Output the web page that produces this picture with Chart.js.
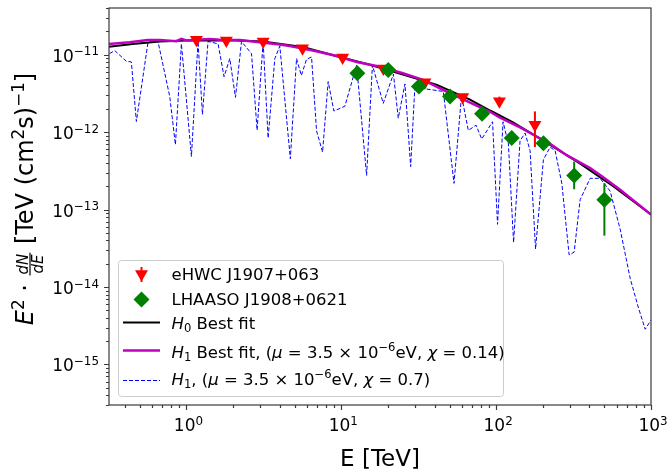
<!DOCTYPE html>
<html>
<head>
<meta charset="utf-8">
<script src="https://cdn.jsdelivr.net/npm/chart.js@4.4.1/dist/chart.umd.min.js"></script>
<style>
  body { margin: 0; background: #fff; }
  canvas { display: block; }
</style>
</head>
<body>
<canvas id="c" width="667" height="470"></canvas>
<script>
// eHWC J1907+063 points (E in TeV, E^2 dN/dE in TeV cm^-2 s^-1)
const ehwcE  = [1.16, 1.81, 3.13, 5.62, 10.2, 18.7, 34.7, 60.8, 105, 178];
const ehwcF  = [1.56e-11, 1.52e-11, 1.48e-11, 1.21e-11, 9.16e-12, 6.64e-12, 4.41e-12, 2.84e-12, 2.50e-12, 1.24e-12];
const ehwcLo = [null, null, null, null, null, null, null, null, 2.2e-12, 6.4e-13];
const ehwcHi = [null, null, null, null, null, null, null, null, 2.87e-12, 1.85e-12];

// LHAASO J1908+0621 points
const lhaasoE  = [12.7, 20.1, 31.7, 50.4, 81.1, 126, 202, 319, 500];
const lhaasoF  = [5.74e-12, 6.32e-12, 3.88e-12, 2.89e-12, 1.72e-12, 8.39e-13, 7.18e-13, 2.76e-13, 1.34e-13];
const lhaasoLo = [null, null, null, null, null, null, null, 1.83e-13, 4.6e-14];
const lhaasoHi = [null, null, null, null, null, null, null, 4.16e-13, 2.19e-13];

// H0 best fit
const h0E = [0.316, 0.450, 0.672, 1.0, 1.905, 3.11, 5.65, 9.37, 15.3, 25.0, 41.5, 67.8, 91.3, 128.6, 213, 349, 570, 1000];
const h0F = [1.26e-11, 1.37e-11, 1.48e-11, 1.52e-11, 1.53e-11, 1.48e-11, 1.26e-11, 9.52e-12, 7.42e-12, 5.54e-12,
             4.07e-12, 2.63e-12, 1.90e-12, 1.34e-12, 7.25e-13, 3.92e-13, 2.00e-13, 8.64e-14];

// H1 best fit (chi = 0.14)
const h1E = [0.316, 0.430, 0.562, 0.672, 0.862, 0.928, 1.0, 1.414, 1.641, 2.211, 2.683, 4.01, 4.65, 6.55, 9.37,
             12.6, 17.8, 25.0, 33.7, 45.4, 58.4, 91.3, 106, 142.7, 178.4, 223, 287, 404.6, 484, 632, 1000];
const h1F = [1.37e-11, 1.45e-11, 1.55e-11, 1.55e-11, 1.49e-11, 1.60e-11, 1.52e-11, 1.59e-11, 1.56e-11, 1.55e-11,
             1.48e-11, 1.35e-11, 1.29e-11, 1.13e-11, 9.60e-12, 8.05e-12, 6.96e-12, 5.74e-12, 4.72e-12, 3.52e-12,
             2.76e-12, 1.83e-12, 1.54e-12, 1.15e-12, 8.97e-13, 7.04e-13, 5.00e-13, 3.44e-13, 2.68e-13, 1.80e-13, 8.64e-14];

// H1 with chi = 0.7
const h1bE = [0.319, 0.344, 0.409, 0.441, 0.475, 0.565, 0.655, 0.780, 0.849, 0.928,
              1.077, 1.188, 1.269, 1.379, 1.601, 1.750, 1.905, 2.074, 2.268, 2.632,
              2.860, 3.128, 3.369, 3.723, 4.010, 4.688, 5.142, 5.523, 5.968, 6.427,
              6.922, 7.570, 8.228, 8.959, 10.55, 12.56, 14.57, 15.89, 18.66, 21.72,
              23.33, 25.77, 28.05, 29.91, 34.71, 45.59, 53.45, 59.76, 66.12, 74.15,
              80.71, 94.78, 102.1, 110.8, 120.0, 129.6, 142.7, 153.8, 165.6, 179.7,
              201.9, 223.0, 240.3, 265.5, 296.0, 318.9, 348.6, 404.6, 469.6, 544.8,
              632.3, 733.9, 830.4, 917.4, 1000];
const h1bF = [1.03e-11, 1.13e-11, 8.22e-12, 8.05e-12, 1.37e-12, 1.45e-11, 1.48e-11, 2.89e-12, 6.90e-13, 1.38e-11,
              4.85e-13, 1.48e-11, 1.69e-12, 1.48e-11, 1.38e-11, 5.19e-12, 8.90e-12, 2.81e-12, 1.48e-11, 1.03e-11,
              1.06e-12, 1.48e-11, 8.39e-13, 8.90e-12, 1.29e-11, 4.54e-13, 8.90e-12, 5.38e-12, 8.71e-12, 9.32e-12,
              1.04e-12, 5.52e-13, 4.49e-12, 1.87e-12, 2.16e-12, 7.31e-12, 2.76e-13, 7.31e-12, 2.35e-12, 5.62e-12,
              1.51e-12, 4.19e-12, 3.59e-13, 4.07e-12, 3.62e-12, 3.35e-12, 2.18e-13, 2.95e-12, 1.05e-12, 1.23e-12,
              8.15e-13, 1.36e-12, 6.45e-14, 1.36e-12, 7.04e-13, 3.77e-14, 7.75e-13, 9.71e-13, 5.79e-13, 3.10e-14,
              4.41e-13, 6.39e-13, 5.79e-13, 2.18e-13, 2.60e-14, 2.82e-14, 1.34e-13, 2.53e-13, 2.53e-13, 1.73e-13,
              5.57e-14, 1.29e-14, 5.36e-15, 2.85e-15, 3.74e-15];

const xTicks = [1, 10, 100, 1000];
const xTickExp = ['0', '1', '2', '3'];
const yTicks = [1e-15, 1e-14, 1e-13, 1e-12, 1e-11];
const yTickExp = ['\u221215', '\u221214', '\u221213', '\u221212', '\u221211'];

const FONT = '"DejaVu Sans", sans-serif';
const pts = (xs, ys) => xs.map((v, i) => ({ x: v, y: ys[i] }));

// draw a run of text pieces: [text, kind], kind = n | i | sup | sub
function rich(ctx, segs, x, y, size, draw) {
  let cx = x;
  for (const [t, k] of segs) {
    let fs = size, dy = 0, st = '';
    if (k === 'i') st = 'italic ';
    if (k === 'sup') { fs = size * 0.7; dy = -size * 0.38; }
    if (k === 'sub') { fs = size * 0.7; dy = size * 0.22; }
    ctx.font = st + fs + 'px ' + FONT;
    if (draw) ctx.fillText(t, cx, y + dy);
    cx += ctx.measureText(t).width;
  }
  return cx - x;
}

const errPlugin = {
  id: 'errbars',
  beforeDatasetDraw(chart, args) {
    const ds = chart.data.datasets[args.index];
    if (!ds.errLo) return;
    const { ctx, chartArea: a, scales: { x, y } } = chart;
    ctx.save();
    ctx.beginPath();
    ctx.rect(a.left, a.top, a.right - a.left, a.bottom - a.top);
    ctx.clip();
    ctx.strokeStyle = ds.backgroundColor;
    ctx.lineWidth = 2;
    ds.data.forEach((p, i) => {
      if (ds.errLo[i] == null) return;
      const px = x.getPixelForValue(p.x);
      ctx.beginPath();
      ctx.moveTo(px, y.getPixelForValue(ds.errLo[i]));
      ctx.lineTo(px, y.getPixelForValue(ds.errHi[i]));
      ctx.stroke();
    });
    ctx.restore();
  }
};

const framePlugin = {
  id: 'frame',
  afterDraw(chart) {
    const { ctx, chartArea: a, scales: { x, y } } = chart;
    ctx.save();
    ctx.strokeStyle = '#3a3a3a';
    ctx.lineWidth = 1.2;
    ctx.strokeRect(a.left, a.top, a.right - a.left, a.bottom - a.top);

    // ticks
    ctx.beginPath();
    for (let d = -1; d <= 3; d++) {
      for (let m = 1; m <= 9; m++) {
        const v = m * Math.pow(10, d);
        if (v < x.min * 0.999 || v > x.max * 1.001) continue;
        const px = Math.round(x.getPixelForValue(v)) + 0.5;
        const len = m === 1 ? 5 : 3;
        ctx.moveTo(px, a.bottom); ctx.lineTo(px, a.bottom + len);
      }
    }
    for (let d = -16; d <= -10; d++) {
      for (let m = 1; m <= 9; m++) {
        const v = m * Math.pow(10, d);
        if (v < y.min * 0.999 || v > y.max * 1.001) continue;
        const py = Math.round(y.getPixelForValue(v)) + 0.5;
        const len = m === 1 ? 5 : 3;
        ctx.moveTo(a.left, py); ctx.lineTo(a.left - len, py);
      }
    }
    ctx.stroke();

    // tick labels
    ctx.fillStyle = '#000';
    ctx.textBaseline = 'alphabetic';
    const TS = 17;
    xTicks.forEach((v, i) => {
      const segs = [['10', 'n'], [xTickExp[i], 'sup']];
      const w = rich(ctx, segs, 0, 0, TS, false);
      const px = x.getPixelForValue(v);
      rich(ctx, segs, px - w / 2 + 2, 431, TS, true);
    });
    yTicks.forEach((v, i) => {
      const segs = [['10', 'n'], [yTickExp[i], 'sup']];
      const w = rich(ctx, segs, 0, 0, TS, false);
      const py = y.getPixelForValue(v);
      rich(ctx, segs, 99 - w, py + 7, TS, true);
    });

    // x title
    ctx.font = '23px ' + FONT;
    ctx.textAlign = 'center';
    ctx.fillText('E [TeV]', (a.left + a.right) / 2, 466);
    ctx.textAlign = 'left';

    // y title (rotated)
    ctx.save();
    ctx.translate(33, 199);
    ctx.rotate(-Math.PI / 2);
    const S = 24, FS = 15;
    const partA = [['E', 'i'], ['2', 'sup'], [' \u00b7 ', 'n']];
    const partB = [[' [TeV (cm', 'n'], ['2', 'sup'], ['s)', 'n'], ['\u22121', 'sup'], [']', 'n']];
    const wA = rich(ctx, partA, 0, 0, S, false);
    const wB = rich(ctx, partB, 0, 0, S, false);
    ctx.font = 'italic ' + FS + 'px ' + FONT;
    const wN = ctx.measureText('dN').width, wD = ctx.measureText('dE').width;
    const fw = Math.max(wN, wD) + 4;
    let sx = -(wA + fw + wB) / 2;
    rich(ctx, partA, sx, 0, S, true);
    sx += wA;
    const barY = -3;
    ctx.font = 'italic ' + FS + 'px ' + FONT;
    ctx.fillText('dN', sx + (fw - wN) / 2, barY - 2.5);
    ctx.fillText('dE', sx + (fw - wD) / 2, barY + 13);
    ctx.fillRect(sx + 1, barY - 0.6, fw - 2, 1.2);
    sx += fw;
    rich(ctx, partB, sx, 0, S, true);
    ctx.restore();

    // legend
    const LS = 16.5;
    ctx.fillStyle = 'rgba(255,255,255,0.8)';
    ctx.strokeStyle = '#cccccc';
    ctx.lineWidth = 1;
    ctx.beginPath();
    ctx.roundRect(118.5, 260.5, 385, 136, 3);
    ctx.fill();
    ctx.stroke();

    const hx0 = 123, hx1 = 160, hxm = 141.5, tx = 171.5;
    const rows = [280, 305, 328.5, 357.5, 384.5];
    // eHWC handle
    ctx.strokeStyle = 'red'; ctx.lineWidth = 2;
    ctx.beginPath(); ctx.moveTo(hxm, 267); ctx.lineTo(hxm, 282); ctx.stroke();
    ctx.fillStyle = 'red';
    ctx.beginPath();
    ctx.moveTo(hxm - 6.5, 270.3); ctx.lineTo(hxm + 6.5, 270.3); ctx.lineTo(hxm, 281.5); ctx.closePath();
    ctx.fill();
    // LHAASO handle
    ctx.fillStyle = 'green';
    ctx.beginPath();
    ctx.moveTo(hxm, 291.5); ctx.lineTo(hxm + 8, 299.5); ctx.lineTo(hxm, 307.5); ctx.lineTo(hxm - 8, 299.5); ctx.closePath();
    ctx.fill();
    // line handles
    const lineH = (yy, col, lw, dash) => {
      ctx.strokeStyle = col; ctx.lineWidth = lw; ctx.setLineDash(dash);
      ctx.beginPath(); ctx.moveTo(hx0, yy); ctx.lineTo(hx1, yy); ctx.stroke();
      ctx.setLineDash([]);
    };
    lineH(322.5, 'black', 2, []);
    lineH(350.5, '#bf00bf', 2.5, []);
    lineH(380.5, 'blue', 1, [4, 2]);

    ctx.fillStyle = '#000';
    rich(ctx, [['eHWC J1907+063', 'n']], tx, rows[0], LS, true);
    rich(ctx, [['LHAASO J1908+0621', 'n']], tx, rows[1], LS, true);
    rich(ctx, [['H', 'i'], ['0', 'sub'], [' Best fit', 'n']], tx, rows[2], LS, true);
    rich(ctx, [['H', 'i'], ['1', 'sub'], [' Best fit, (', 'n'], ['\u03bc', 'i'], [' = 3.5 \u00d7 10', 'n'],
               ['\u22126', 'sup'], ['eV, ', 'n'], ['\u03c7', 'i'], [' = 0.14)', 'n']], tx, rows[3], LS, true);
    rich(ctx, [['H', 'i'], ['1', 'sub'], [', (', 'n'], ['\u03bc', 'i'], [' = 3.5 \u00d7 10', 'n'],
               ['\u22126', 'sup'], ['eV, ', 'n'], ['\u03c7', 'i'], [' = 0.7)', 'n']], tx, rows[4], LS, true);
    ctx.restore();
  }
};

new Chart(document.getElementById('c'), {
  type: 'scatter',
  data: {
    datasets: [
      {
        label: 'LHAASO J1908+0621',
        data: pts(lhaasoE, lhaasoF),
        errLo: lhaasoLo, errHi: lhaasoHi,
        pointStyle: 'rectRot', pointRadius: 8,
        backgroundColor: 'green', borderColor: 'green', borderWidth: 0
      },
      {
        label: 'eHWC J1907+063',
        data: pts(ehwcE, ehwcF),
        errLo: ehwcLo, errHi: ehwcHi,
        pointStyle: 'triangle', rotation: 180, pointRadius: 7.5,
        backgroundColor: 'red', borderColor: 'red', borderWidth: 0
      },
      {
        label: 'H1 Best fit',
        data: pts(h1E, h1F),
        showLine: true, pointRadius: 0,
        borderColor: '#bf00bf', borderWidth: 2.5
      },
      {
        label: 'H0 Best fit',
        data: pts(h0E, h0F),
        showLine: true, pointRadius: 0,
        borderColor: 'black', borderWidth: 2
      },
      {
        label: 'H1 chi 0.7',
        data: pts(h1bE, h1bF),
        showLine: true, pointRadius: 0,
        borderColor: 'blue', borderWidth: 1, borderDash: [4, 2]
      }
    ]
  },
  options: {
    responsive: false,
    animation: false,
    devicePixelRatio: 1,
    layout: { padding: { top: 2, right: 16, left: 0, bottom: 0 } },
    plugins: { legend: { display: false }, tooltip: { enabled: false } },
    scales: {
      x: {
        type: 'logarithmic', min: Math.pow(10, -0.5), max: 1000, bounds: 'data',
        ticks: { display: false }, grid: { display: false, drawTicks: false }, border: { display: false },
        afterFit: s => { s.height = 65; }
      },
      y: {
        type: 'logarithmic', min: 3e-16, max: 4e-11, bounds: 'data',
        ticks: { display: false }, grid: { display: false, drawTicks: false }, border: { display: false },
        afterFit: s => { s.width = 109; }
      }
    }
  },
  plugins: [errPlugin, framePlugin]
});
</script>
</body>
</html>
